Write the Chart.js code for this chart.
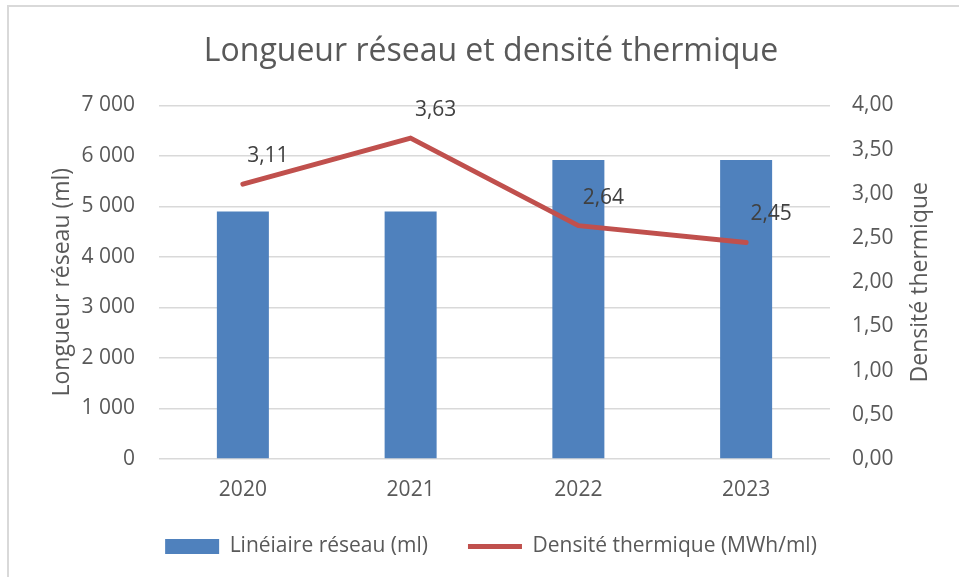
<!DOCTYPE html>
<html>
<head>
<meta charset="utf-8">
<script src="https://cdn.jsdelivr.net/npm/chart.js@4.4.1/dist/chart.umd.min.js"></script>
<style>
  html, body { margin: 0; padding: 0; background: #fff; }
  #wrap { position: relative; width: 959px; height: 577px; }
  #frame { position: absolute; left: 7px; top: 5px; right: -2px; bottom: -2px; border: 2px solid #d9d9d9; }
  canvas { position: absolute; left: 0; top: 0; }
</style>
</head>
<body>
<div id="wrap">
  <div id="frame"></div>
  <canvas id="chart" width="959" height="577"></canvas>
</div>
<script>
// --- DATA ---
const years = ['2020', '2021', '2022', '2023'];
const lineaire = [4900, 4900, 5920, 5920];
const densite = [3.11, 3.63, 2.64, 2.45];
const leftTicks = [0, 1000, 2000, 3000, 4000, 5000, 6000, 7000];
const rightTicks = [0, 0.5, 1, 1.5, 2, 2.5, 3, 3.5, 4];
const rightTitle = 'Densité thermique';

const FONT = "'Open Sans', sans-serif";
const GREY = '#595959';

const fmtThousands = v => String(v).replace(/\B(?=(\d{3})+(?!\d))/g, ' ');
const fmtDec = v => Number(v).toFixed(2).replace('.', ',');

// data labels next to the line points + right axis title (reads bottom to top like Excel)
const extras = {
    id: 'extras',
    afterDatasetsDraw(chart) {
        const meta = chart.getDatasetMeta(1);
        const ctx = chart.ctx;
        ctx.save();
        ctx.font = '21px ' + FONT;
        ctx.fillStyle = '#404040';
        ctx.textAlign = 'center';
        ctx.textBaseline = 'middle';
        meta.data.forEach((pt, i) => {
            ctx.fillText(fmtDec(densite[i]), pt.x + 25, pt.y - 28);
        });
        ctx.restore();
    },
    afterDraw(chart) {
        const s = chart.scales.y1;
        const ctx = chart.ctx;
        ctx.save();
        ctx.translate(s.right - 13, (s.top + s.bottom) / 2);
        ctx.rotate(-Math.PI / 2);
        ctx.font = '23px ' + FONT;
        ctx.fillStyle = GREY;
        ctx.textAlign = 'center';
        ctx.textBaseline = 'middle';
        ctx.fillText(rightTitle, 0, 0);
        ctx.restore();
    }
};

new Chart(document.getElementById('chart'), {
    type: 'bar',
    data: {
        labels: years,
        datasets: [{
            label: 'Linéiaire réseau (ml)',
            data: lineaire,
            backgroundColor: '#4f81bd',
            borderWidth: 0,
            pointStyle: 'rect',
            yAxisID: 'y',
            categoryPercentage: 1,
            barPercentage: 0.31,
            order: 1
        }, {
            type: 'line',
            label: 'Densité thermique (MWh/ml)',
            data: densite,
            borderColor: '#c0504d',
            backgroundColor: '#c0504d',
            borderWidth: 5,
            borderCapStyle: 'round',
            borderJoinStyle: 'round',
            pointRadius: 0,
            pointStyle: 'line',
            tension: 0,
            yAxisID: 'y1',
            order: 0
        }]
    },
    options: {
        responsive: false,
        animation: false,
        layout: { padding: { left: 49, right: 26, top: 33, bottom: 10 } },
        plugins: {
            tooltip: { enabled: false },
            title: {
                display: true,
                text: 'Longueur réseau et densité thermique',
                color: GREY,
                font: { family: FONT, size: 32, weight: 'normal' },
                padding: { top: 0, bottom: 34 }
            },
            legend: {
                position: 'bottom',
                labels: {
                    color: GREY,
                    font: { family: FONT, size: 21 },
                    usePointStyle: true,
                    pointStyleWidth: 54,
                    boxHeight: 15,
                    padding: 40,
                    sort: (a, b) => a.datasetIndex - b.datasetIndex
                }
            }
        },
        scales: {
            x: {
                grid: { display: false },
                border: { display: false },
                ticks: { color: GREY, font: { family: FONT, size: 21 }, padding: 10 },
                afterFit: s => { s.height = 37; }
            },
            y: {
                position: 'left',
                min: 0, max: 7000,
                afterBuildTicks: s => { s.ticks = leftTicks.map(v => ({ value: v })); },
                grid: { color: '#d9d9d9', lineWidth: 1.5, drawTicks: false },
                border: { display: false },
                ticks: { color: GREY, font: { family: FONT, size: 21 }, padding: 24, callback: v => fmtThousands(v) },
                title: { display: true, text: 'Longueur réseau (ml)', color: GREY, font: { family: FONT, size: 23 }, padding: { top: 0, bottom: 0 } },
                afterFit: s => { s.width = 110; }
            },
            y1: {
                position: 'right',
                min: 0, max: 4,
                afterBuildTicks: s => { s.ticks = rightTicks.map(v => ({ value: v })); },
                grid: { drawOnChartArea: false, drawTicks: false },
                border: { display: false },
                ticks: { color: GREY, font: { family: FONT, size: 21 }, padding: 22, callback: v => fmtDec(v) },
                title: { display: false },
                afterFit: s => { s.width = 103; }
            }
        }
    },
    plugins: [extras]
});
</script>
</body>
</html>
